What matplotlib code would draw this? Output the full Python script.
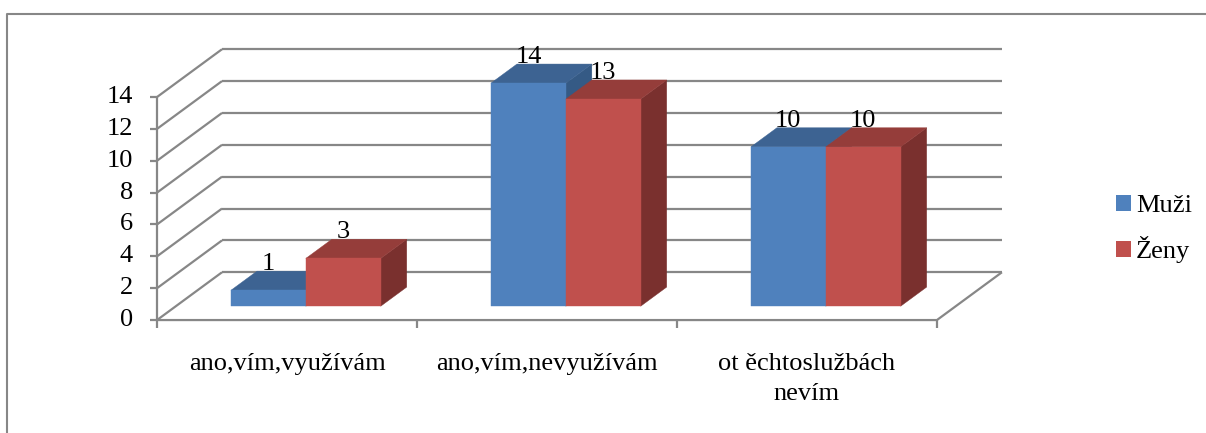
import matplotlib
matplotlib.use("Agg")
import matplotlib.pyplot as plt
from matplotlib.patches import Polygon, Patch
from matplotlib.lines import Line2D

# ---- data ----
categories = ["ano,vím,využívám", "ano,vím,nevyužívám", "ot ěchtoslužbách\nnevím"]
series_names = ["Muži", "Ženy"]
muzi = [1, 14, 10]
zeny = [3, 13, 10]
y_ticks = [0, 2, 4, 6, 8, 10, 12, 14]

plt.rcParams['font.family'] = ['Liberation Serif', 'DejaVu Serif']

# front / top / side face colours per series
FACES = {
    "Muži": ("#4F81BD", "#3D6392", "#355A85"),
    "Ženy": ("#C0504D", "#953D3A", "#7A302E"),
}
GRID = "#878787"
FS = 19

# oblique projection: the full depth of the box shifts a point right and up
DEPTH_X = 0.25   # category units
DEPTH_Y = 3.0    # value units
BAR_Z0, BAR_Z1 = 0.29, 0.69   # bars sit in the middle of the depth
BAR_W = 0.288


def proj(x, v, z):
    return (x + z * DEPTH_X, v + z * DEPTH_Y)


fig = plt.figure(figsize=(12.06, 4.33), dpi=100)
ax = fig.add_axes([0, 0, 1, 1])
ax.set_xlim(-1.104, 3.535)
ax.set_ylim(-7.09, 20.09)
ax.axis('off')

x0, x1 = -0.5, len(categories) - 0.5
top = y_ticks[-1]
lw = 1.6
line_kw = dict(color=GRID, lw=lw, solid_capstyle='butt', zorder=1)

# back-wall grid lines and left-wall lines
for t in y_ticks:
    ax.plot(*zip(proj(x0, t, 1), proj(x1, t, 1)), **line_kw)
    ax.plot(*zip(proj(x0, t, 0), proj(x0, t, 1)), **line_kw)
    # value-axis tick
    ax.plot([x0 - 0.027, x0], [t, t], **line_kw)
    ax.text(x0 - 0.092, t, str(t), ha='right', va='center', fontsize=FS)

# floor outline
ax.plot(*zip(proj(x0, 0, 0), proj(x1, 0, 0), proj(x1, 0, 1)), **line_kw)
# value axis
ax.plot([x0, x0], [0, top], **line_kw)
# category ticks
for k in range(len(categories) + 1):
    ax.plot([x0 + k, x0 + k], [0, -0.5], **line_kw)

# category labels, one text per line so the first line keeps its baseline
LINE_STEP = 1.88
for i, cat in enumerate(categories):
    for j, line in enumerate(cat.split("\n")):
        ax.text(i, -3.14 - j * LINE_STEP, line, ha='center', va='baseline',
                fontsize=FS)

# 3D columns
z = 2
for i in range(len(categories)):
    for s, (name, values) in enumerate(zip(series_names, [muzi, zeny])):
        v = values[i]
        xl = i - BAR_W + s * BAR_W
        xr = xl + BAR_W
        front_c, top_c, side_c = FACES[name]
        front = [proj(xl, 0, BAR_Z0), proj(xr, 0, BAR_Z0),
                 proj(xr, v, BAR_Z0), proj(xl, v, BAR_Z0)]
        topf = [proj(xl, v, BAR_Z0), proj(xr, v, BAR_Z0),
                proj(xr, v, BAR_Z1), proj(xl, v, BAR_Z1)]
        side = [proj(xr, 0, BAR_Z0), proj(xr, 0, BAR_Z1),
                proj(xr, v, BAR_Z1), proj(xr, v, BAR_Z0)]
        for poly, col in ((side, side_c), (topf, top_c), (front, front_c)):
            ax.add_patch(Polygon(poly, closed=True, facecolor=col,
                                 edgecolor=col, lw=0.3, zorder=z))
        z += 1
        ax.annotate(str(v), xy=proj((xl + xr) / 2, v, BAR_Z0),
                    xytext=(0, 18.7), textcoords='offset points',
                    ha='center', va='center', fontsize=FS, zorder=20)

# legend
handles = [Patch(facecolor=FACES[n][0], edgecolor='none') for n in series_names]
ax.legend(handles, series_names, loc='upper left',
          bbox_to_anchor=(1116 / 1206, 1 - 195 / 433),
          bbox_transform=fig.transFigure, frameon=False, fontsize=FS,
          handlelength=0.55, handleheight=0.55, handletextpad=0.2,
          labelspacing=0.72, borderpad=0, borderaxespad=0)

# chart border
fig.add_artist(Line2D([7 / 1206, 7 / 1206, 1.0], [0, 1 - 14 / 433, 1 - 14 / 433],
                      transform=fig.transFigure, color=GRID, lw=1.5))

fig.savefig('out.png', dpi=100)
